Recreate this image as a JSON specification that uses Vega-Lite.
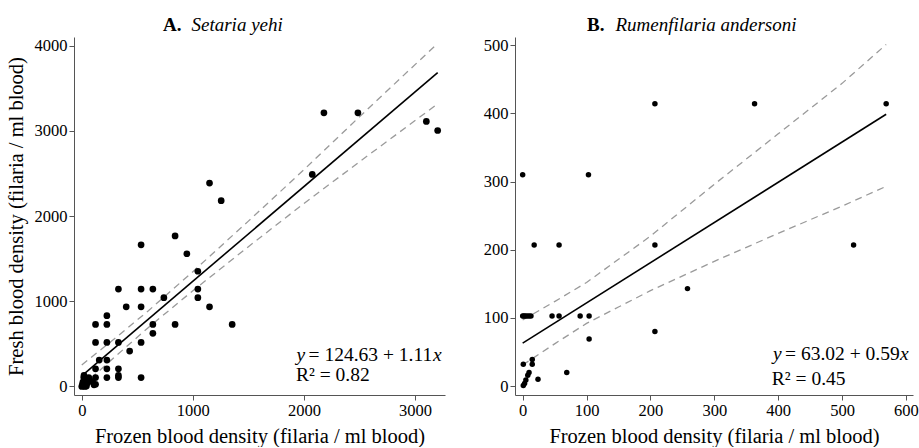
{
  "$schema": "https://vega.github.io/schema/vega-lite/v6.json",
  "background": "white",
  "padding": {"left": 6, "top": 16, "right": 0, "bottom": 0},
  "config": {
    "view": {"stroke": null},
    "font": "Liberation Serif",
    "axis": {
      "grid": false,
      "domainColor": "#555555",
      "tickColor": "#555555",
      "tickSize": 5,
      "labelFont": "Liberation Serif",
      "labelFontSize": 16.5,
      "labelColor": "black",
      "labelPadding": 2,
      "titleFont": "Liberation Serif",
      "titleFontSize": 20.5,
      "titleFontWeight": "normal",
      "titleColor": "black",
      "format": "d"
    },
    "title": {
      "font": "Liberation Serif",
      "fontSize": 19,
      "fontWeight": "bold",
      "color": "black",
      "anchor": "start",
      "frame": "group",
      "subtitleFont": "Liberation Serif",
      "subtitleFontSize": 19,
      "subtitleFontStyle": "italic",
      "subtitleFontWeight": "normal",
      "subtitleColor": "black",
      "subtitlePadding": -19,
      "offset": 2
    },
    "text": {"font": "Liberation Serif", "fontSize": 19.5, "color": "black", "align": "left", "baseline": "alphabetic"},
    "concat": {"spacing": 38}
  },
  "datasets": {
    "a_pts": [
      {"frozen": 1150, "fresh": 2386}, {"frozen": 840, "fresh": 1766}, {"frozen": 534, "fresh": 1662},
      {"frozen": 946, "fresh": 1557}, {"frozen": 1045, "fresh": 1352}, {"frozen": 1255, "fresh": 2180},
      {"frozen": 2180, "fresh": 3211}, {"frozen": 2486, "fresh": 3211}, {"frozen": 3102, "fresh": 3109},
      {"frozen": 3204, "fresh": 3003}, {"frozen": 2075, "fresh": 2488}, {"frozen": 330, "fresh": 1143},
      {"frozen": 534, "fresh": 1143}, {"frozen": 640, "fresh": 1143}, {"frozen": 1045, "fresh": 1143},
      {"frozen": 739, "fresh": 1042}, {"frozen": 1045, "fresh": 1042}, {"frozen": 400, "fresh": 935},
      {"frozen": 534, "fresh": 935}, {"frozen": 1150, "fresh": 935}, {"frozen": 226, "fresh": 830},
      {"frozen": 124, "fresh": 728}, {"frozen": 226, "fresh": 728}, {"frozen": 640, "fresh": 728},
      {"frozen": 840, "fresh": 728}, {"frozen": 1354, "fresh": 728}, {"frozen": 640, "fresh": 623},
      {"frozen": 124, "fresh": 517}, {"frozen": 226, "fresh": 517}, {"frozen": 330, "fresh": 517},
      {"frozen": 534, "fresh": 517}, {"frozen": 431, "fresh": 415}, {"frozen": 157, "fresh": 310},
      {"frozen": 226, "fresh": 310}, {"frozen": 124, "fresh": 207}, {"frozen": 226, "fresh": 207},
      {"frozen": 330, "fresh": 207}, {"frozen": 226, "fresh": 104}, {"frozen": 330, "fresh": 104},
      {"frozen": 330, "fresh": 130}, {"frozen": 534, "fresh": 104}, {"frozen": 124, "fresh": 104},
      {"frozen": 63, "fresh": 104}, {"frozen": 18, "fresh": 104}, {"frozen": 18, "fresh": 37},
      {"frozen": 63, "fresh": 80}, {"frozen": 124, "fresh": 26}, {"frozen": 42, "fresh": 6},
      {"frozen": 18, "fresh": 6}, {"frozen": 0, "fresh": 0}, {"frozen": 5, "fresh": 20},
      {"frozen": 10, "fresh": 50}, {"frozen": 30, "fresh": 0}, {"frozen": 50, "fresh": 40},
      {"frozen": 90, "fresh": 60}, {"frozen": 110, "fresh": 20}, {"frozen": 20, "fresh": 130}
    ],
    "a_fit": [{"frozen": 0, "fresh": 124.63}, {"frozen": 3204, "fresh": 3681}],
    "a_band": [
      {"frozen": 0, "lo": 0, "hi": 252}, {"frozen": 300, "lo": 350, "hi": 566},
      {"frozen": 600, "lo": 693, "hi": 889}, {"frozen": 1000, "lo": 1123, "hi": 1347},
      {"frozen": 1500, "lo": 1640, "hi": 1940}, {"frozen": 2000, "lo": 2147, "hi": 2543},
      {"frozen": 2500, "lo": 2636, "hi": 3164}, {"frozen": 3204, "lo": 3316, "hi": 4025}
    ],
    "b_pts": [
      {"frozen": 0, "fresh": 310}, {"frozen": 103, "fresh": 310}, {"frozen": 18, "fresh": 207},
      {"frozen": 57, "fresh": 207}, {"frozen": 0, "fresh": 103}, {"frozen": 2, "fresh": 103},
      {"frozen": 4, "fresh": 103}, {"frozen": 7, "fresh": 103}, {"frozen": 10, "fresh": 103},
      {"frozen": 13, "fresh": 103}, {"frozen": 46, "fresh": 103}, {"frozen": 57, "fresh": 103},
      {"frozen": 90, "fresh": 103}, {"frozen": 104, "fresh": 103}, {"frozen": 104, "fresh": 69},
      {"frozen": 1, "fresh": 32}, {"frozen": 15, "fresh": 39}, {"frozen": 15, "fresh": 32},
      {"frozen": 10, "fresh": 20}, {"frozen": 8, "fresh": 16}, {"frozen": 5, "fresh": 9},
      {"frozen": 1, "fresh": 1}, {"frozen": 3, "fresh": 4}, {"frozen": 24, "fresh": 10},
      {"frozen": 69, "fresh": 20}, {"frozen": 207, "fresh": 414}, {"frozen": 363, "fresh": 414},
      {"frozen": 569, "fresh": 414}, {"frozen": 207, "fresh": 207}, {"frozen": 518, "fresh": 207},
      {"frozen": 258, "fresh": 143}, {"frozen": 207, "fresh": 80}
    ],
    "b_fit": [{"frozen": 0, "fresh": 63.02}, {"frozen": 569, "fresh": 398.7}],
    "b_band": [
      {"frozen": 0, "lo": 31, "hi": 97}, {"frozen": 50, "lo": 62, "hi": 124},
      {"frozen": 100, "lo": 92, "hi": 152}, {"frozen": 150, "lo": 116, "hi": 186},
      {"frozen": 200, "lo": 140, "hi": 220}, {"frozen": 300, "lo": 183, "hi": 296},
      {"frozen": 400, "lo": 224, "hi": 370}, {"frozen": 500, "lo": 264, "hi": 444},
      {"frozen": 569, "lo": 293, "hi": 501}
    ]
  },
  "hconcat": [
    {
      "width": 371,
      "height": 358,
      "title": {"text": "A.", "subtitle": "\u200b\u00a0\u00a0\u00a0\u00a0\u00a0\u00a0Setaria yehi", "dx": 89},
      "layer": [
        {"data": {"name": "a_band"}, "mark": {"type": "line", "color": "#9a9a9a", "strokeDash": [7, 5], "strokeWidth": 1.3},
         "encoding": {
           "x": {"field": "frozen", "type": "quantitative", "scale": {"domain": [-70, 3270], "nice": false, "zero": false},
                 "axis": {"values": [0, 1000, 2000, 3000], "title": "Frozen blood density (filaria / ml blood)", "titlePadding": 8, "labelFont": "Liberation Serif"}},
           "y": {"field": "lo", "type": "quantitative", "scale": {"domain": [-100, 4100], "nice": false, "zero": false},
                 "axis": {"values": [0, 1000, 2000, 3000, 4000], "title": "Fresh blood density (filaria / ml blood)", "titlePadding": 8, "labelFont": "Liberation Serif"}}
         }},
        {"data": {"name": "a_band"}, "mark": {"type": "line", "color": "#9a9a9a", "strokeDash": [7, 5], "strokeWidth": 1.3},
         "encoding": {
           "x": {"field": "frozen", "type": "quantitative", "axis": {"title": "Frozen blood density (filaria / ml blood)"}},
           "y": {"field": "hi", "type": "quantitative", "axis": {"title": "Fresh blood density (filaria / ml blood)"}}
         }},
        {"data": {"name": "a_fit"}, "mark": {"type": "line", "color": "black", "strokeWidth": 1.6},
         "encoding": {
           "x": {"field": "frozen", "type": "quantitative", "axis": {"title": "Frozen blood density (filaria / ml blood)"}},
           "y": {"field": "fresh", "type": "quantitative", "axis": {"title": "Fresh blood density (filaria / ml blood)"}}
         }},
        {"data": {"name": "a_pts"}, "mark": {"type": "circle", "color": "black", "opacity": 1, "size": 45},
         "encoding": {
           "x": {"field": "frozen", "type": "quantitative", "axis": {"title": "Frozen blood density (filaria / ml blood)"}},
           "y": {"field": "fresh", "type": "quantitative", "axis": {"title": "Fresh blood density (filaria / ml blood)"}}
         }},
        {"data": {"values": [{"t": "y"}]}, "mark": {"type": "text", "fontStyle": "italic"},
         "encoding": {"x": {"datum": 1934, "type": "quantitative"}, "y": {"datum": 299, "type": "quantitative"}, "text": {"field": "t", "type": "nominal"}}},
        {"data": {"values": [{"t": "= 124.63 + 1.11"}]}, "mark": {"type": "text", "dx": 12},
         "encoding": {"x": {"datum": 1934, "type": "quantitative"}, "y": {"datum": 299, "type": "quantitative"}, "text": {"field": "t", "type": "nominal"}}},
        {"data": {"values": [{"t": "x"}]}, "mark": {"type": "text", "fontStyle": "italic", "dx": 136.5},
         "encoding": {"x": {"datum": 1934, "type": "quantitative"}, "y": {"datum": 299, "type": "quantitative"}, "text": {"field": "t", "type": "nominal"}}},
        {"data": {"values": [{"t": "R² = 0.82"}]}, "mark": {"type": "text"},
         "encoding": {"x": {"datum": 1928, "type": "quantitative"}, "y": {"datum": 64, "type": "quantitative"}, "text": {"field": "t", "type": "nominal"}}}
      ]
    },
    {
      "width": 398,
      "height": 358,
      "title": {"text": "B.", "subtitle": "\u200b\u00a0\u00a0\u00a0\u00a0\u00a0\u00a0Rumenfilaria andersoni", "dx": 72},
      "layer": [
        {"data": {"name": "b_band"}, "mark": {"type": "line", "color": "#9a9a9a", "strokeDash": [7, 5], "strokeWidth": 1.3},
         "encoding": {
           "x": {"field": "frozen", "type": "quantitative", "scale": {"domain": [-12, 611], "nice": false, "zero": false},
                 "axis": {"values": [0, 100, 200, 300, 400, 500, 600], "title": "Frozen blood density (filaria / ml blood)", "titlePadding": 8, "labelFont": "Liberation Serif"}},
           "y": {"field": "lo", "type": "quantitative", "scale": {"domain": [-13, 512], "nice": false, "zero": false},
                 "axis": {"values": [0, 100, 200, 300, 400, 500], "title": null, "labelFont": "Liberation Serif"}}
         }},
        {"data": {"name": "b_band"}, "mark": {"type": "line", "color": "#9a9a9a", "strokeDash": [7, 5], "strokeWidth": 1.3},
         "encoding": {
           "x": {"field": "frozen", "type": "quantitative", "axis": {"title": "Frozen blood density (filaria / ml blood)"}},
           "y": {"field": "hi", "type": "quantitative", "axis": {"title": null}}
         }},
        {"data": {"name": "b_fit"}, "mark": {"type": "line", "color": "black", "strokeWidth": 1.6},
         "encoding": {
           "x": {"field": "frozen", "type": "quantitative", "axis": {"title": "Frozen blood density (filaria / ml blood)"}},
           "y": {"field": "fresh", "type": "quantitative", "axis": {"title": null}}
         }},
        {"data": {"name": "b_pts"}, "mark": {"type": "circle", "color": "black", "opacity": 1, "size": 30},
         "encoding": {
           "x": {"field": "frozen", "type": "quantitative", "axis": {"title": "Frozen blood density (filaria / ml blood)"}},
           "y": {"field": "fresh", "type": "quantitative", "axis": {"title": null}}
         }},
        {"data": {"values": [{"t": "y"}]}, "mark": {"type": "text", "fontStyle": "italic"},
         "encoding": {"x": {"datum": 392, "type": "quantitative"}, "y": {"datum": 38, "type": "quantitative"}, "text": {"field": "t", "type": "nominal"}}},
        {"data": {"values": [{"t": "= 63.02 + 0.59"}]}, "mark": {"type": "text", "dx": 12},
         "encoding": {"x": {"datum": 392, "type": "quantitative"}, "y": {"datum": 38, "type": "quantitative"}, "text": {"field": "t", "type": "nominal"}}},
        {"data": {"values": [{"t": "x"}]}, "mark": {"type": "text", "fontStyle": "italic", "dx": 127},
         "encoding": {"x": {"datum": 392, "type": "quantitative"}, "y": {"datum": 38, "type": "quantitative"}, "text": {"field": "t", "type": "nominal"}}},
        {"data": {"values": [{"t": "R² = 0.45"}]}, "mark": {"type": "text"},
         "encoding": {"x": {"datum": 390, "type": "quantitative"}, "y": {"datum": 2, "type": "quantitative"}, "text": {"field": "t", "type": "nominal"}}}
      ]
    }
  ]
}
